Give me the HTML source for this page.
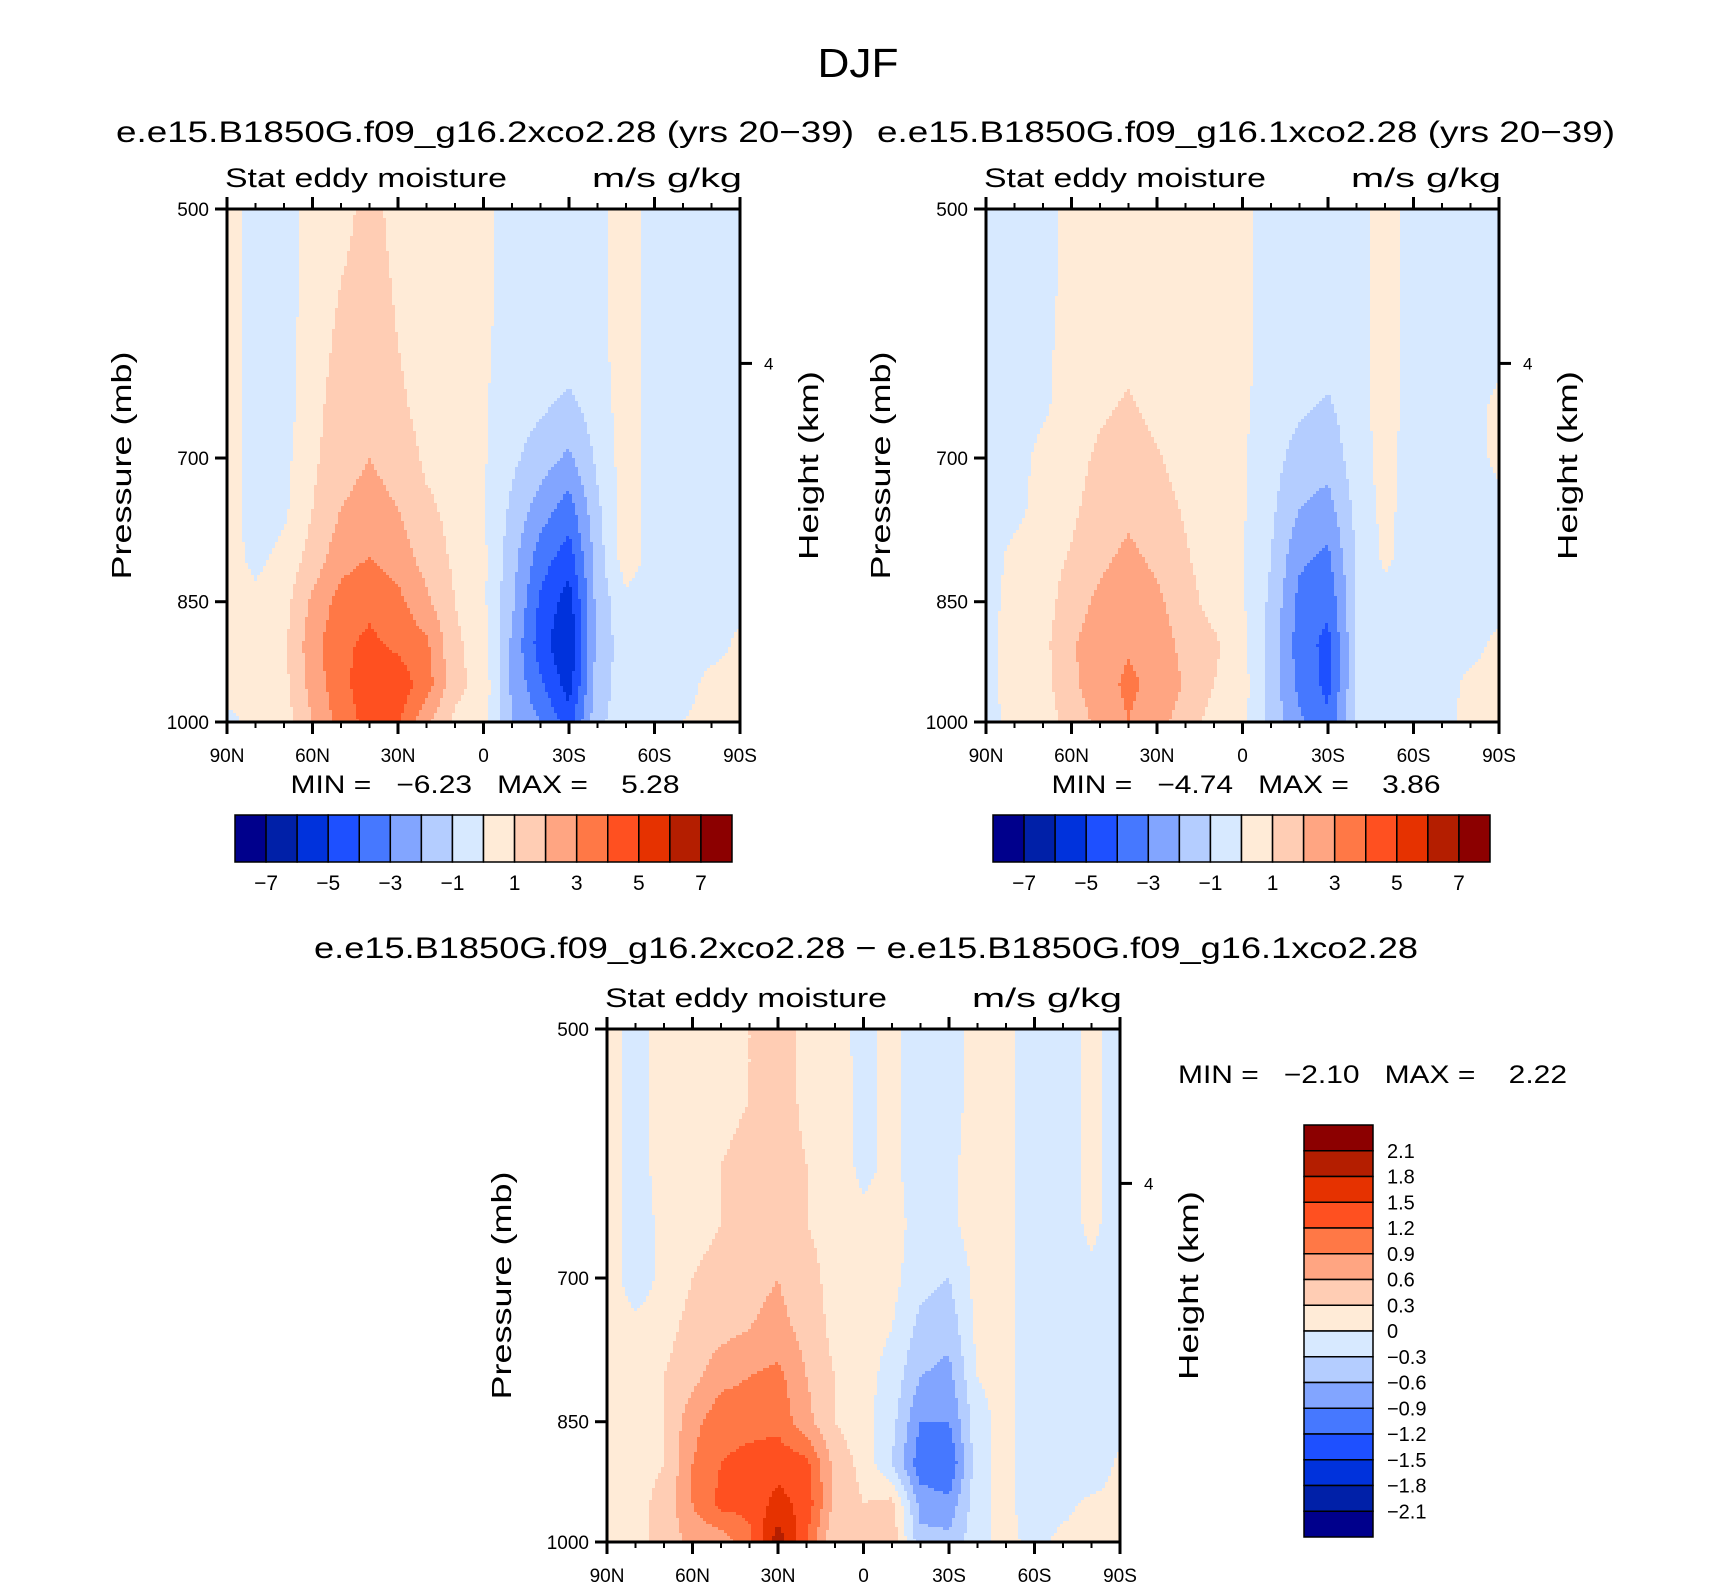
<!DOCTYPE html>
<html><head><meta charset="utf-8"><style>
html,body{margin:0;padding:0;background:#fff}
svg{display:block;font-family:"Liberation Sans",sans-serif}
</style></head><body>
<svg id="fig" width="1710" height="1587" viewBox="0 0 1710 1587">
<text x="858" y="77" font-size="41" text-anchor="middle" textLength="81" lengthAdjust="spacingAndGlyphs">DJF</text>
<text x="485" y="142" font-size="30" text-anchor="middle" textLength="738" lengthAdjust="spacingAndGlyphs">e.e15.B1850G.f09_g16.2xco2.28 (yrs 20−39)</text>
<text x="1246" y="142" font-size="30" text-anchor="middle" textLength="738" lengthAdjust="spacingAndGlyphs">e.e15.B1850G.f09_g16.1xco2.28 (yrs 20−39)</text>
<text x="866" y="958" font-size="30" text-anchor="middle" textLength="1104" lengthAdjust="spacingAndGlyphs">e.e15.B1850G.f09_g16.2xco2.28 − e.e15.B1850G.f09_g16.1xco2.28</text>
<text x="485" y="793" font-size="25" text-anchor="middle" xml:space="preserve" textLength="389" lengthAdjust="spacingAndGlyphs">MIN =   −6.23   MAX =    5.28</text>
<text x="1246" y="793" font-size="25" text-anchor="middle" xml:space="preserve" textLength="389" lengthAdjust="spacingAndGlyphs">MIN =   −4.74   MAX =    3.86</text>
<text x="1178" y="1083" font-size="25" xml:space="preserve" textLength="389" lengthAdjust="spacingAndGlyphs">MIN =   −2.10   MAX =    2.22</text>
</svg>
<script>
const lats=[90,80,70,60,50,40,30,20,10,0,-10,-20,-30,-40,-50,-60,-70,-80,-90];
const levels=[500,550,600,650,700,750,800,850,900,950,1000];
const colors=["#00008C","#0020A8","#0032DC","#1E50FF","#4678FF","#82A5FF","#B4CDFF","#D7E9FF","#FFEBD7","#FFCDB4","#FFA582","#FF7846","#FF5020","#E63200","#B41E00","#8C0000"];
const cbLabelsTop=["−7","−5","−3","−1","1","3","5","7"];
const cbLabelsDiff=["2.1","1.8","1.5","1.2","0.9","0.6","0.3","0","−0.3","−0.6","−0.9","−1.2","−1.5","−1.8","−2.1"];
const xTickLabels=["90N","60N","30N","0","30S","60S","90S"];
const yTickLevels=[500,700,850,1000];
const data2x=[
[0.5,-0.5,-0.5,0.5,0.5,1.5,0.5,0.5,0.5,0.3,-0.5,-0.5,-0.5,-0.3,0.5,-0.5,-0.5,-0.5,-0.5],
[0.5,-0.5,-0.5,0.5,1.0,1.6,0.8,0.5,0.5,0.3,-0.5,-0.5,-0.5,-0.3,0.5,-0.5,-0.5,-0.5,-0.5],
[0.5,-0.5,-0.5,0.6,1.2,1.7,1.0,0.5,0.5,0.2,-0.5,-0.5,-0.5,-0.3,0.5,-0.5,-0.5,-0.5,-0.5],
[0.5,-0.5,-0.5,0.7,1.4,1.8,1.2,0.6,0.5,0.1,-0.5,-0.8,-1.2,-0.5,0.5,-0.5,-0.5,-0.5,-0.5],
[0.5,-0.5,-0.3,0.8,1.6,2.0,1.6,0.8,0.6,0.1,-0.8,-1.5,-2.2,-0.8,0.5,-0.5,-0.5,-0.5,-0.5],
[0.5,-0.5,-0.2,1.0,2.0,2.4,2.0,1.2,0.7,0.1,-1.2,-2.5,-3.5,-1.2,0.5,-0.5,-0.5,-0.5,-0.5],
[0.5,-0.3,0.3,1.4,2.6,3.0,2.5,1.6,0.8,0.2,-1.6,-3.5,-4.5,-1.5,0.6,-0.5,-0.5,-0.5,-0.5],
[0.5,0.3,0.6,2.2,3.4,3.8,3.3,2.2,1.0,0.2,-1.8,-4.2,-5.5,-1.6,-0.3,-0.5,-0.5,-0.5,-0.4],
[0.5,0.5,0.8,2.6,3.8,4.2,3.8,3.2,1.2,0.5,-2.2,-4.5,-6.0,-1.6,-0.5,-0.5,-0.5,-0.6,0.3],
[0.5,0.5,0.7,2.4,3.7,4.6,4.6,3.5,1.3,0.6,-2.2,-3.8,-5.5,-1.5,-0.5,-0.5,-0.6,0.5,0.5],
[-0.3,0.3,0.5,2.0,3.4,4.4,4.2,2.2,0.8,0.5,-2.0,-3.0,-4.5,-1.2,-0.5,0.0,0.0,0.5,0.5]];
const data1x=[
[-0.5,-0.5,-0.5,0.5,0.5,0.5,0.5,0.5,0.5,0.3,-0.5,-0.5,-0.5,-0.5,0.5,-0.5,-0.5,-0.5,-0.5],
[-0.5,-0.5,-0.5,0.5,0.5,0.5,0.5,0.5,0.5,0.3,-0.5,-0.5,-0.5,-0.5,0.5,-0.5,-0.5,-0.5,-0.5],
[-0.5,-0.5,-0.3,0.5,0.5,0.7,0.5,0.5,0.5,0.3,-0.5,-0.5,-0.5,-0.5,0.5,-0.5,-0.5,-0.5,-0.5],
[-0.5,-0.5,-0.2,0.5,0.8,1.1,0.7,0.5,0.5,0.2,-0.5,-0.8,-1.1,-0.5,0.5,-0.5,-0.5,-0.5,0.3],
[-0.5,-0.4,0.3,0.6,1.2,1.5,1.1,0.6,0.4,0.1,-0.6,-1.4,-1.6,-0.5,0.4,-0.5,-0.5,-0.5,0.3],
[-0.5,-0.3,0.4,0.8,1.5,1.8,1.4,0.9,0.4,0.1,-0.8,-2.0,-2.4,-0.7,0.3,-0.5,-0.5,-0.5,-0.4],
[-0.5,0.3,0.5,1.1,1.8,2.2,1.8,1.1,0.5,0.1,-1.0,-2.8,-3.2,-0.9,0.2,-0.5,-0.5,-0.5,-0.4],
[-0.4,0.4,0.5,1.6,2.2,2.6,2.2,1.4,0.6,0.1,-1.2,-3.3,-3.8,-1.0,-0.3,-0.5,-0.5,-0.5,-0.4],
[-0.3,0.5,0.7,1.9,2.5,2.9,2.5,1.7,1.2,0.3,-1.4,-3.5,-4.3,-1.0,-0.4,-0.5,-0.5,-0.4,0.3],
[-0.3,0.5,0.6,1.8,2.6,3.2,2.7,1.9,1.0,0.4,-1.4,-3.3,-4.3,-1.0,-0.5,-0.5,-0.5,0.3,0.4],
[-0.5,0.4,0.5,1.4,2.3,3.0,2.4,1.5,0.6,0.3,-1.3,-2.8,-3.8,-0.8,-0.5,-0.4,-0.4,0.4,0.4]];
const dataDiff=[
[0.2,-0.2,0.2,0.2,0.2,0.3,0.5,0.2,0.1,-0.1,0.1,-0.2,-0.2,0.2,0.1,-0.2,-0.2,0.1,-0.2],
[0.2,-0.2,0.2,0.2,0.2,0.3,0.5,0.2,0.2,-0.1,0.1,-0.2,-0.2,0.2,0.1,-0.2,-0.2,0.1,-0.2],
[0.2,-0.2,0.2,0.2,0.3,0.4,0.5,0.3,0.2,-0.1,0.1,-0.2,-0.1,0.2,0.1,-0.2,-0.2,0.1,-0.2],
[0.2,-0.2,0.1,0.2,0.3,0.4,0.6,0.3,0.2,0.1,0.1,-0.1,-0.1,0.2,0.1,-0.2,-0.2,0.1,-0.2],
[0.2,-0.2,0.1,0.3,0.4,0.5,0.6,0.4,0.2,0.1,0.1,-0.2,-0.3,0.1,0.1,-0.2,-0.2,-0.1,-0.2],
[0.2,0.1,0.2,0.4,0.5,0.6,0.7,0.5,0.2,0.1,0.0,-0.4,-0.5,0.1,0.1,-0.2,-0.2,-0.1,-0.2],
[0.2,0.2,0.3,0.5,0.8,0.9,1.0,0.6,0.3,0.1,-0.1,-0.6,-0.7,0.0,0.1,-0.2,-0.2,-0.1,-0.2],
[0.2,0.2,0.3,0.8,1.1,1.1,1.1,0.7,0.3,0.1,-0.2,-0.9,-0.9,-0.1,0.1,-0.2,-0.2,-0.1,-0.2],
[0.2,0.2,0.3,0.9,1.2,1.3,1.4,1.3,0.5,0.2,-0.3,-1.1,-1.2,-0.1,0.1,-0.2,-0.2,-0.3,0.1],
[0.2,0.2,0.4,0.9,1.3,1.3,1.6,1.4,0.5,0.3,0.4,-0.7,-0.8,-0.1,0.1,-0.2,-0.1,0.1,0.1],
[0.0,0.2,0.4,0.7,0.7,1.1,2.0,1.2,0.3,0.3,0.5,-0.5,-0.5,-0.1,0.1,-0.1,0.1,0.1,0.1]];

const NS="http://www.w3.org/2000/svg";
const fig=document.getElementById('fig');
function mk(tag,attrs,parent){const e=document.createElementNS(NS,tag);for(const k in attrs)e.setAttribute(k,attrs[k]);(parent||fig).appendChild(e);return e;}
function txt(s,attrs,parent){const e=mk('text',attrs,parent);e.textContent=s;return e;}

function sample(data,lat,p){
  let fi=(90-lat)/10; fi=Math.max(0,Math.min(lats.length-1.0001,fi));
  let fj=(p-500)/50; fj=Math.max(0,Math.min(levels.length-1.0001,fj));
  const i=Math.floor(fi),j=Math.floor(fj),a=fi-i,b=fj-j;
  return (data[j][i]*(1-a)+data[j][i+1]*a)*(1-b)+(data[j+1][i]*(1-a)+data[j+1][i+1]*a)*b;
}
function drawPanel(name,x0,x1,y0,y1,data,step){
  const g=mk('g',{});
  
  
  const xS=lat=>x0+(90-lat)/180*(x1-x0);
  const yS=p=>y0+Math.log(p/500)/Math.log(2)*(y1-y0);
  const pAt=y=>500*Math.pow(2,(y-y0)/(y1-y0));
  const cs=3;
  const cells=mk('g',{},g);
  
  
  for(let y=y0;y<y1;y+=cs){
    const p=pAt(y+cs/2);
    let runStart=x0,runC=null;
    for(let x=x0;x<=x1;x+=cs){
      let c=null;
      if(x<x1){const lat=90-(x+cs/2-x0)/(x1-x0)*180;const v=sample(data,lat,p);
        let k=Math.floor(v/step)+8;k=Math.max(0,Math.min(15,k));c=colors[k];}
      if(c!==runC){
        if(runC){const r=mk('rect',{x:runStart,y:y,width:Math.min(x,x1)-runStart+0.6,height:Math.min(cs,y1-y)+0.6,fill:runC},cells);
          
          }
        runStart=x;runC=c;
      }
    }
  }
  const ax=mk('g',{stroke:'#000','stroke-width':3,fill:'none'},g);
  
  
  mk('rect',{x:x0,y:y0,width:x1-x0,height:y1-y0},ax);
  for(let lat=90;lat>=-90;lat-=10){
    const x=xS(lat),major=lat%30===0,L=major?12:6;
    mk('line',{x1:x,y1:y1,x2:x,y2:y1+L,'stroke-width':major?3:2},ax);
    mk('line',{x1:x,y1:y0,x2:x,y2:y0-L,'stroke-width':major?3:2},ax);
  }
  xTickLabels.forEach((s,i)=>{const t=txt(s,{x:xS(90-30*i),y:y1+40,'font-size':19,'text-anchor':'middle'},g);
    });
  yTickLevels.forEach(p=>{const y=yS(p);mk('line',{x1:x0-12,y1:y,x2:x0,y2:y},ax);
    const t=txt(String(p),{x:x0-18,y:y+7,'font-size':19,'text-anchor':'end'},g);
    });
  const yh=yS(616);mk('line',{x1:x1,y1:yh,x2:x1+12,y2:yh},ax);
  const t4=txt('4',{x:x1+24,y:yh+6,'font-size':17},g);
  
  const ym=(y0+y1)/2;
  const pl=txt('Pressure (mb)',{x:0,y:0,'font-size':28,'text-anchor':'middle',textLength:228,lengthAdjust:'spacingAndGlyphs',transform:`translate(${x0-96},${ym}) rotate(-90)`},g);
  
  const hl=txt('Height (km)',{x:0,y:0,'font-size':28,'text-anchor':'middle',textLength:189,lengthAdjust:'spacingAndGlyphs',transform:`translate(${x1+78},${ym}) rotate(-90)`},g);
  
  const s1=txt('Stat eddy moisture',{x:x0-2,y:y0-22,'font-size':27,textLength:282,lengthAdjust:'spacingAndGlyphs'},g);
  
  const s2=txt('m/s g/kg',{x:x1+2-150,y:y0-22,'font-size':27,textLength:150,lengthAdjust:'spacingAndGlyphs'},g);
  
}
drawPanel('panel-2xco2',227,740,209,722,data2x,1);
drawPanel('panel-1xco2',986,1499,209,722,data1x,1);
drawPanel('panel-difference',607,1120,1029,1542,dataDiff,0.3);

function hbar(name,x0,x1,y0,y1){
  const g=mk('g',{});
  
  
  const w=(x1-x0)/colors.length;
  colors.forEach((c,i)=>{const r=mk('rect',{x:x0+i*w,y:y0,width:w,height:y1-y0,fill:c,stroke:'#000','stroke-width':1.5},g);
    });
  cbLabelsTop.forEach((s,i)=>{const t=txt(s,{x:x0+(1+2*i)*w,y:y1+28,'font-size':21,'text-anchor':'middle'},g);
    });
}
hbar('colorbar-2xco2',235,732,815,862);
hbar('colorbar-1xco2',993,1490,815,862);
(function(){
  const x0=1304,x1=1373,y0=1125,y1=1537;
  const g=mk('g',{});
  
  
  const h=(y1-y0)/colors.length;
  colors.slice().reverse().forEach((c,i)=>{const r=mk('rect',{x:x0,y:y0+i*h,width:x1-x0,height:h,fill:c,stroke:'#000','stroke-width':1.5},g);
    });
  cbLabelsDiff.forEach((s,i)=>{const t=txt(s,{x:x1+14,y:y0+(i+1)*h+7,'font-size':20},g);
    });
})();
</script>
</body></html>
